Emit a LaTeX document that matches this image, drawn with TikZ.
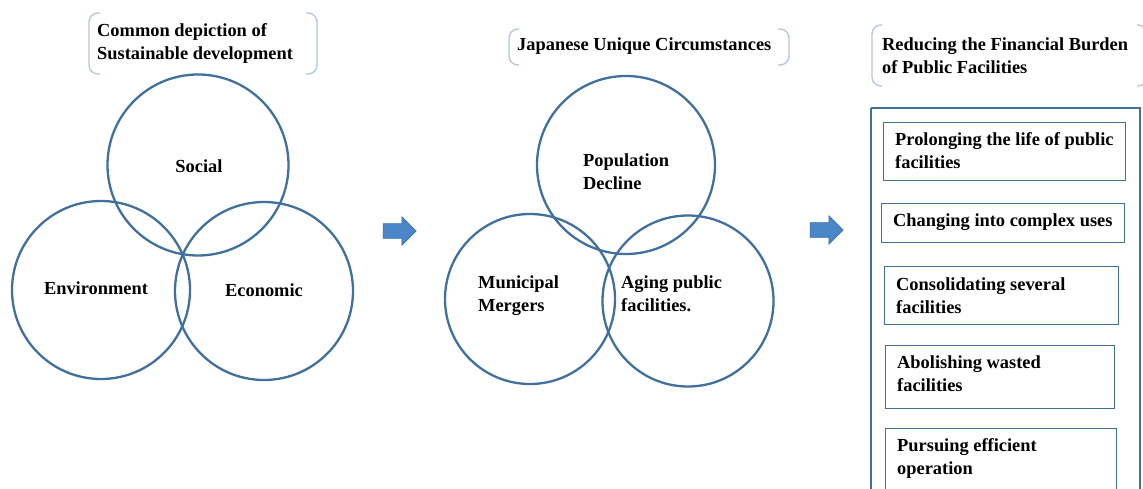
\documentclass[tikz,border=0pt]{standalone}
\usepackage{fontspec}
\setmainfont{Liberation Serif}
\usetikzlibrary{shapes.arrows}
\definecolor{ring}{HTML}{41709C}
\definecolor{brk}{HTML}{B9C7D6}
\definecolor{arrfill}{HTML}{4A86C8}
\definecolor{arrline}{HTML}{3A6EA5}
\tikzset{
  ringnode/.style={circle, draw=ring, line width=2.3pt, inner sep=0pt},
  lbl/.style={font=\fontsize{18.4}{23}\selectfont\bfseries, align=left, inner sep=0pt},
  bracketline/.style={draw=brk, line width=1.4pt, rounded corners=9pt},
  itembox/.style={draw=ring, line width=1.4pt, inner sep=0pt, anchor=north west},
  bigbox/.style={draw=ring, line width=1.8pt},
  fatarrow/.style={single arrow, draw=arrline, fill=arrfill, line width=0.6pt,
    minimum height=33pt, minimum width=28pt, inner xsep=0pt, inner ysep=7pt,
    single arrow head extend=7pt, single arrow tip angle=90}
}
\begin{document}
\begin{tikzpicture}[x=1pt, y=-1pt]
\useasboundingbox (0,0) rectangle (1143,489);

% --- left group: sustainable development
\node[ringnode, minimum size=181pt] (social) at (198,165) {};
\node[ringnode, minimum size=178pt] (env) at (101,290) {};
\node[ringnode, minimum size=178pt] (eco) at (264,291) {};
\node[lbl] (tsocial) at (199,166) {Social};
\node[lbl] (tenv) at (96,288) {Environment};
\node[lbl] (teco) at (264,290) {Economic};

\draw[bracketline] (100,13) -- (89,13) -- (89,74) -- (100,74);
\draw[bracketline] (306,13) -- (317,13) -- (317,74) -- (306,74);
\node[lbl, anchor=west] (t1) at (97,43) {Common depiction of\\Sustainable development};

% --- middle group: Japanese circumstances
\node[ringnode, minimum size=178pt] (pop) at (626,165) {};
\node[ringnode, minimum size=170pt] (mun) at (530,299) {};
\node[ringnode, minimum size=171pt] (age) at (688,301) {};
\node[lbl, anchor=west] (tpop) at (583,172) {Population\\Decline};
\node[lbl, anchor=west] (tmun) at (478,296) {Municipal\\Mergers};
\node[lbl, anchor=west] (tage) at (621,294) {Aging public\\facilities.};

\draw[bracketline] (519,29) -- (509,29) -- (509,65) -- (519,65);
\draw[bracketline] (778,29) -- (789,29) -- (789,65) -- (778,65);
\node[lbl, anchor=west] (t2) at (517,46) {Japanese Unique Circumstances};

% --- transition arrows
\node[fatarrow] (a1) at (396,231) {};
\node[fatarrow] (a2) at (823,230) {};

% --- right group: measures
\draw[bracketline] (882,25) -- (872,25) -- (872,86) -- (882,86);
\draw[bracketline] (1137,25) -- (1147,25) -- (1147,86) -- (1137,86);
\node[lbl, anchor=west] (t3) at (882,56) {Reducing the Financial Burden\\of Public Facilities};

\draw[bigbox] (871,108) -- (1140,108) -- (1140,495) (871,495) -- (871,108);

\node[itembox, minimum width=242pt, minimum height=58pt] (b1) at (883,122) {};
\node[lbl, anchor=west] (tb1) at (895,151) {Prolonging the life of public\\facilities};
\node[itembox, minimum width=243pt, minimum height=39pt] (b2) at (881,203) {};
\node[lbl, anchor=west] (tb2) at (893,222) {Changing into complex uses};
\node[itembox, minimum width=234pt, minimum height=58pt] (b3) at (884,266) {};
\node[lbl, anchor=west] (tb3) at (896,296) {Consolidating several\\facilities};
\node[itembox, minimum width=229pt, minimum height=63pt] (b4) at (885,345) {};
\node[lbl, anchor=west] (tb4) at (897,374) {Abolishing wasted\\facilities};
\node[itembox, minimum width=231pt, minimum height=70pt] (b5) at (885,428) {};
\node[lbl, anchor=west] (tb5) at (897,458) {Pursuing efficient\\operation};
\end{tikzpicture}
\end{document}
